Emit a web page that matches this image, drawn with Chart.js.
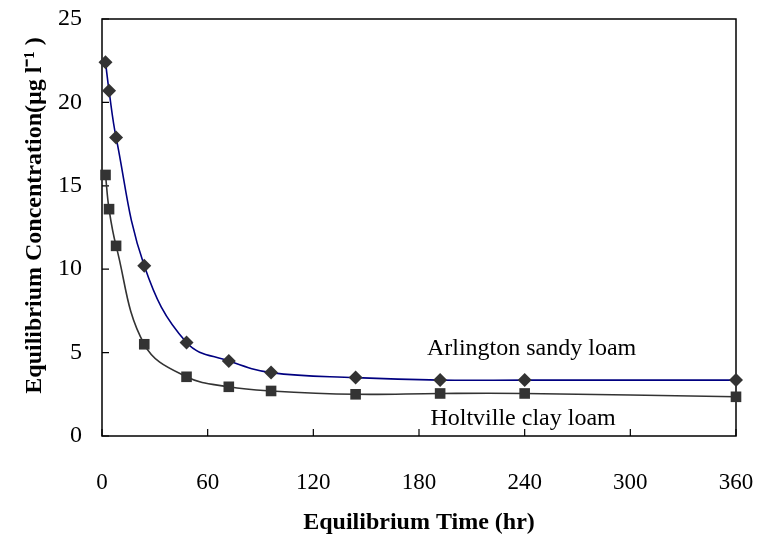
<!DOCTYPE html>
<html>
<head>
<meta charset="utf-8">
<script src="https://cdn.jsdelivr.net/npm/chart.js@4"></script>
<style>
html,body{margin:0;padding:0;background:#fff;}
#wrap{width:757px;height:540px;position:relative;}
</style>
</head>
<body>
<div id="wrap"><canvas id="c" width="757" height="540"></canvas></div>
<script>
const timesHr = [2, 4, 8, 24, 48, 72, 96, 144, 192, 240, 360];
const arlington = [22.4, 20.7, 17.9, 10.2, 5.6, 4.5, 3.8, 3.5, 3.35, 3.35, 3.35];
const holtville = [15.65, 13.6, 11.4, 5.5, 3.55, 2.95, 2.7, 2.5, 2.55, 2.55, 2.35];
const xTicks = [0, 60, 120, 180, 240, 300, 360];
const yTicks = [0, 5, 10, 15, 20, 25];
const seriesNames = ['Arlington sandy loam', 'Holtville clay loam'];
const xTitle = 'Equilibrium Time (hr)';
const yTitle = 'Equilibrium Concentration(µg l⁻¹ )';

const FONT = "'Liberation Serif', 'Times New Roman', serif";

const pts = (ys) => timesHr.map((x, i) => ({x: x, y: ys[i]}));

function zeroPad(s) { s.paddingTop = 0; s.paddingBottom = 0; s.paddingLeft = 0; s.paddingRight = 0; }

const framePlugin = {
  id: 'frame',
  beforeDatasetsDraw(chart) {
    const {ctx, chartArea: a, scales} = chart;
    ctx.save();
    ctx.strokeStyle = '#000';
    ctx.lineWidth = 1.5;
    ctx.strokeRect(a.left, a.top, a.right - a.left, a.bottom - a.top);
    ctx.lineWidth = 1.2;
    ctx.beginPath();
    xTicks.forEach(v => {
      const px = scales.x.getPixelForValue(v);
      ctx.moveTo(px, a.bottom);
      ctx.lineTo(px, a.bottom - 7);
    });
    yTicks.forEach(v => {
      const py = scales.y.getPixelForValue(v);
      ctx.moveTo(a.left, py);
      ctx.lineTo(a.left + 7, py);
    });
    ctx.stroke();
    ctx.restore();
  },
  afterDatasetsDraw(chart) {
    const {ctx, scales} = chart;
    ctx.save();
    ctx.fillStyle = '#000';
    ctx.font = '24px ' + FONT;
    ctx.textAlign = 'left';
    ctx.textBaseline = 'middle';
    ctx.fillText(seriesNames[0], scales.x.getPixelForValue(184.5), scales.y.getPixelForValue(5.25));
    ctx.fillText(seriesNames[1], scales.x.getPixelForValue(186.5), scales.y.getPixelForValue(1.05));
    ctx.restore();
  }
};

new Chart(document.getElementById('c'), {
  type: 'line',
  data: {
    datasets: [
      {
        label: seriesNames[0],
        data: pts(arlington),
        borderColor: '#000080',
        borderWidth: 1.6,
        backgroundColor: '#333333',
        pointStyle: 'rectRot',
        pointRadius: 7,
        pointBorderWidth: 0,
        pointBackgroundColor: '#333333',
        tension: 0.4,
        clip: false
      },
      {
        label: seriesNames[1],
        data: pts(holtville),
        borderColor: '#333333',
        borderWidth: 1.6,
        backgroundColor: '#333333',
        pointStyle: 'rect',
        pointRadius: 7.5,
        pointBorderWidth: 0,
        pointBackgroundColor: '#333333',
        tension: 0.4,
        clip: false
      }
    ]
  },
  options: {
    responsive: false,
    animation: false,
    layout: {padding: {top: 19, right: 21, bottom: 0, left: 0}},
    plugins: {legend: {display: false}, tooltip: {enabled: false}},
    scales: {
      x: {
        type: 'linear',
        min: 0, max: 360,
        afterBuildTicks(s) { s.ticks = xTicks.map(v => ({value: v})); },
        afterFit(s) { s.height = 104; zeroPad(s); },
        grid: {display: false, drawTicks: false},
        border: {display: false},
        ticks: {color: '#000', font: {family: FONT, size: 23}, padding: 33, maxRotation: 0},
        title: {display: true, text: xTitle, color: '#000', font: {family: FONT, size: 24, weight: 'bold'}, padding: {top: 0, bottom: 3}}
      },
      y: {
        min: 0, max: 25,
        afterBuildTicks(s) { s.ticks = yTicks.map(v => ({value: v})); },
        afterFit(s) { s.width = 102; zeroPad(s); },
        grid: {display: false, drawTicks: false},
        border: {display: false},
        ticks: {color: '#000', font: {family: FONT, size: 24}, padding: 20},
        title: {display: true, text: '    ' + yTitle, color: '#000', font: {family: FONT, size: 24, weight: 'bold'}, padding: {top: 20, bottom: 0}}
      }
    }
  },
  plugins: [framePlugin]
});
</script>
</body>
</html>
